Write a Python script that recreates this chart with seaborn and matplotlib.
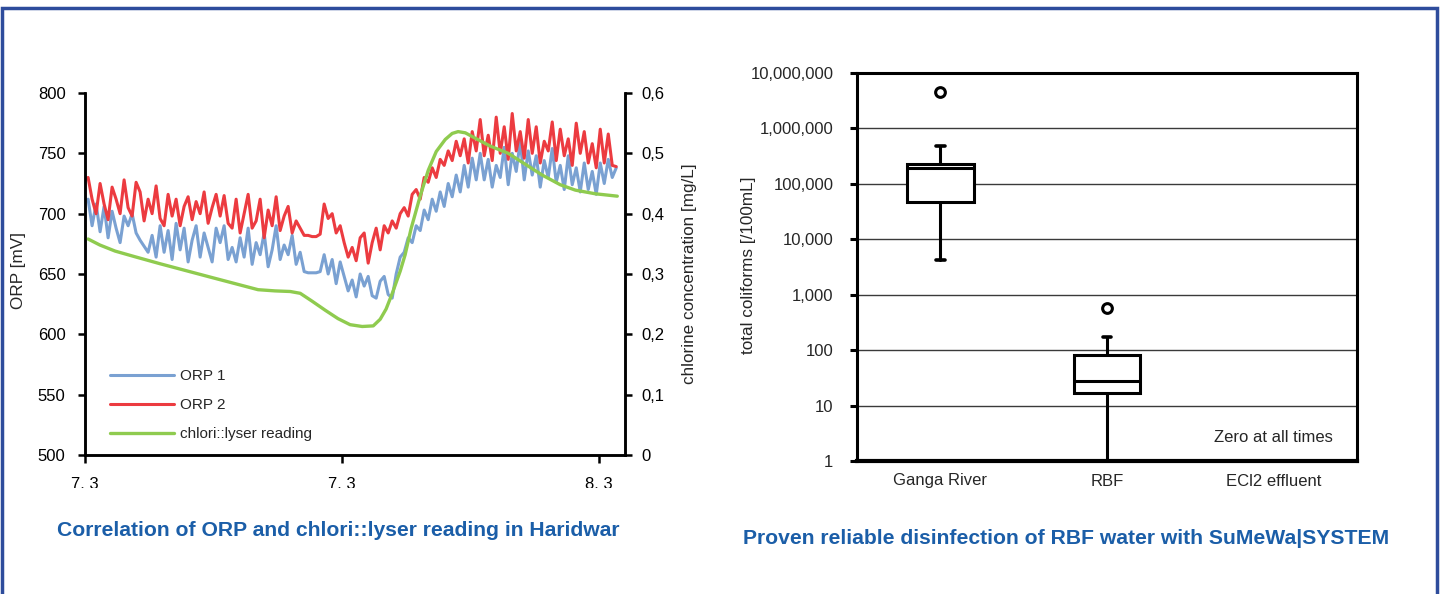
import numpy as np
import pandas as pd
import seaborn as sns
import matplotlib.pyplot as plt
from matplotlib.patches import Rectangle
from matplotlib.lines import Line2D
from matplotlib.ticker import FuncFormatter, NullLocator
from matplotlib.transforms import Bbox, TransformedBbox

# ---------------- data: left chart (ORP vs chlorine) ----------------
# time in days from first tick
orp_t_start, orp_t_end = 0.012, 2.066
orp1 = [712, 690, 708, 685, 706, 680, 702, 688, 676, 698,
        690, 700, 684, 678, 673, 668, 682, 664, 690, 668,
        686, 662, 692, 670, 688, 660, 678, 690, 664, 684,
        672, 660, 688, 676,
        690, 662, 672, 660, 680, 664, 688, 658, 676, 666,
        684, 656, 670, 690, 662, 674, 666, 682, 658, 668,
        652, 651, 651, 651, 652, 666, 650, 662, 642, 660,
        648, 636,
        645, 631, 650, 640, 648, 632, 630, 644, 648, 633,
        630, 650, 664, 668, 680, 676, 690, 686, 703, 695,
        712, 702, 718, 706, 725, 714, 732, 718, 740, 722,
        746, 728,
        750, 728, 745, 722, 740, 730, 755, 724, 750, 735,
        760, 728, 752, 732, 748, 722, 744, 730, 754, 726,
        740, 720, 748, 724, 738, 718, 742, 720, 735, 716,
        742, 725, 745, 730, 738]
orp2 = [730, 712, 700, 725, 708, 695, 722, 712, 700, 728,
        705, 698, 726, 718, 694, 712, 700, 723, 696, 690,
        716, 698, 712, 690, 706, 714, 695, 710, 700, 718,
        692, 705, 716, 698,
        715, 692, 688, 712, 684, 700, 716, 688, 694, 712,
        680, 703, 690, 714, 686, 698, 706, 684, 694, 688,
        682, 682, 681, 681, 683, 708, 696, 700, 684, 690,
        676, 664,
        672, 661, 680, 684, 659, 676, 688, 670, 690, 684,
        694, 688, 700, 705, 698, 716, 720, 712, 730, 726,
        738, 730, 745, 740, 752, 744, 760, 748, 762, 742,
        768, 752,
        778, 748, 765, 744, 780, 750, 772, 745, 783, 752,
        768, 746, 778, 750, 772, 742, 760, 752, 776, 744,
        770, 748, 762, 740, 775, 750, 768, 742, 758, 738,
        770, 742, 766, 740, 739]
chlor_t = [0.012, 0.058, 0.117, 0.191, 0.292, 0.389, 0.486, 0.584, 0.673, 0.739,
           0.798, 0.837, 0.883, 0.934, 0.984, 1.031, 1.078, 1.121, 1.148, 1.171,
           1.195, 1.226, 1.245, 1.268, 1.304, 1.335, 1.366, 1.401, 1.428, 1.451,
           1.479, 1.518, 1.576, 1.646, 1.712, 1.778, 1.848, 1.907, 1.984, 2.070]
chlor = [0.358, 0.348, 0.338, 0.329, 0.317, 0.306, 0.295, 0.284, 0.274, 0.272,
         0.271, 0.268, 0.255, 0.240, 0.226, 0.216, 0.213, 0.214, 0.225, 0.242,
         0.268, 0.305, 0.332, 0.375, 0.430, 0.472, 0.503, 0.523, 0.533, 0.536,
         0.534, 0.525, 0.512, 0.500, 0.482, 0.464, 0.448, 0.439, 0.433, 0.429]
x_ticks = [0, 1, 2]
x_ticklabels = ["7. 3", "7. 3", "8. 3"]

# ---------------- data: right chart (coliform box plots) ----------------
groups = ["Ganga River", "RBF", "ECl2 effluent"]
whis_lo = [4300, 1]
q1 = [47000, 17]
med = [190000, 28]
q3 = [230000, 81]
whis_hi = [490000, 171]
outliers = [[4.6e6], [570]]

# ---------------- style ----------------
sns.set_style("white")
plt.rcParams['font.family'] = ['Liberation Sans', 'DejaVu Sans']
c_orp1 = "#7aa1d2"
c_orp2 = "#ec3b40"
c_chl = "#8fcb4f"
title_c = "#1b5ea8"
fs_tick = 12
fs_lab = 12.3
fs_title = 15.2

fig = plt.figure(figsize=(14.43, 5.94), dpi=100)
W, H = 1443, 594

def box(l, t, r, b):
    return [l / W, 1 - b / H, (r - l) / W, (b - t) / H]

# ---------------- left chart ----------------
ax1 = fig.add_axes(box(85, 93, 625, 455))
t = np.linspace(orp_t_start, orp_t_end, len(orp1))
df = pd.DataFrame({"t": np.concatenate([t, t]),
                   "mV": orp1 + orp2,
                   "series": ["ORP 1"] * len(orp1) + ["ORP 2"] * len(orp2)})
sns.lineplot(data=df, x="t", y="mV", hue="series",
             palette={"ORP 1": c_orp1, "ORP 2": c_orp2},
             lw=2.2, ax=ax1, legend=False)
ax1.set_xlim(0, 2.1)
ax1.set_ylim(500, 800)
ax1.set_yticks([500, 550, 600, 650, 700, 750, 800])
ax1.set_xticks(x_ticks)
ax1.set_xticklabels(x_ticklabels)
ax1.set_xlabel("")
ax1.set_ylabel("ORP [mV]", fontsize=fs_lab)
ax1.yaxis.set_label_coords(-0.109, 0.51)

ax2 = ax1.twinx()
sns.lineplot(x=chlor_t, y=chlor, color=c_chl, lw=2.4, ax=ax2)
ax2.set_ylim(0, 0.6)
ax2.set_yticks([0, 0.1, 0.2, 0.3, 0.4, 0.5, 0.6])
ax2.set_yticklabels(["0", "0,1", "0,2", "0,3", "0,4", "0,5", "0,6"])
ax2.set_ylabel("chlorine concentration [mg/L]", fontsize=fs_lab)
ax2.yaxis.set_label_coords(1.106, 0.5)

for a in (ax1, ax2):
    a.spines["top"].set_visible(False)
    for s in ("left", "right", "bottom"):
        a.spines[s].set_color("black")
        a.spines[s].set_linewidth(1.8)
    a.tick_params(direction="out", length=5, width=1.8, color="black",
                  labelsize=fs_tick, colors="black")
    a.tick_params(axis="x", length=6, pad=10)
ax1.tick_params(axis="y", pad=9, left=True)
ax2.tick_params(axis="y", pad=7, right=True)
ax1.tick_params(axis="x", bottom=True)

# x tick labels cut off at the bottom as in the source
clip = TransformedBbox(Bbox([[0, 1 - 488 / H], [1, 1]]), fig.transFigure)
for lbl in ax1.get_xticklabels():
    lbl.set_clip_on(True)
    lbl.set_clip_box(clip)

handles = [Line2D([], [], color=c_orp1, lw=2.2),
           Line2D([], [], color=c_orp2, lw=2.2),
           Line2D([], [], color=c_chl, lw=2.4)]
ax2.legend(handles, ["ORP 1", "ORP 2", "chlori::lyser reading"],
           loc="lower left", bbox_to_anchor=(0.02, 0.0), frameon=False,
           fontsize=11, handlelength=4.2, labelspacing=0.98, handletextpad=0.4)

fig.text(338 / W, 1 - 530 / H, "Correlation of ORP and chlori::lyser reading in Haridwar",
         ha="center", va="center", color=title_c, weight="bold", fontsize=fs_title)

# ---------------- right chart ----------------
ax3 = fig.add_axes(box(857, 73, 1357, 461))
stats = [dict(label=groups[i], whislo=whis_lo[i], q1=q1[i], med=med[i],
              q3=q3[i], whishi=whis_hi[i], fliers=outliers[i])
         for i in range(len(whis_lo))]
ax3.bxp(stats, positions=list(range(len(stats))), widths=0.4, patch_artist=True,
        capwidths=0.05, manage_ticks=False, zorder=3,
        boxprops=dict(facecolor="white", edgecolor="black", lw=2.2),
        medianprops=dict(color="black", lw=2.2),
        whiskerprops=dict(color="black", lw=2.2),
        capprops=dict(color="black", lw=2.6),
        flierprops=dict(marker="o", markerfacecolor="white", markeredgecolor="black",
                        markersize=7, markeredgewidth=2.2))
ax3.set_yscale("log")
ax3.set_ylim(1, 1e7)
ax3.set_xlim(-0.5, 2.5)
ax3.set_yticks([10 ** k for k in range(8)])
ax3.yaxis.set_minor_locator(NullLocator())
ax3.yaxis.set_major_formatter(FuncFormatter(lambda v, p: f"{v:,.0f}"))
ax3.set_xticks(range(len(groups)))
ax3.set_xticklabels(groups)
ax3.yaxis.grid(True, color="#3a3a3a", lw=1.0, zorder=0)
ax3.set_axisbelow(True)
for s in ax3.spines.values():
    s.set_visible(True)
    s.set_color("black")
    s.set_linewidth(2.2)
ax3.spines["bottom"].set_linewidth(3.0)
ax3.tick_params(axis="y", direction="out", length=5, width=2.2, color="black",
                labelsize=fs_tick, pad=12, left=True)
ax3.tick_params(axis="x", length=0, labelsize=fs_tick, pad=9)
ax3.set_ylabel("total coliforms [/100mL]", fontsize=fs_lab)
ax3.yaxis.set_label_coords(-0.202, 0.505)
ax3.text(2, 2.6, "Zero at all times", ha="center", va="center", fontsize=fs_tick)

fig.text(1066 / W, 1 - 538 / H, "Proven reliable disinfection of RBF water with SuMeWa|SYSTEM",
         ha="center", va="center", color=title_c, weight="bold", fontsize=fs_title)

# ---------------- frame ----------------
fig.patches.append(Rectangle((2 / W, -0.1), 1435 / W, 1.1 - 8 / H,
                             transform=fig.transFigure, fill=False,
                             edgecolor="#2e4c9c", lw=2.5))

fig.savefig("out.png", dpi=100)
